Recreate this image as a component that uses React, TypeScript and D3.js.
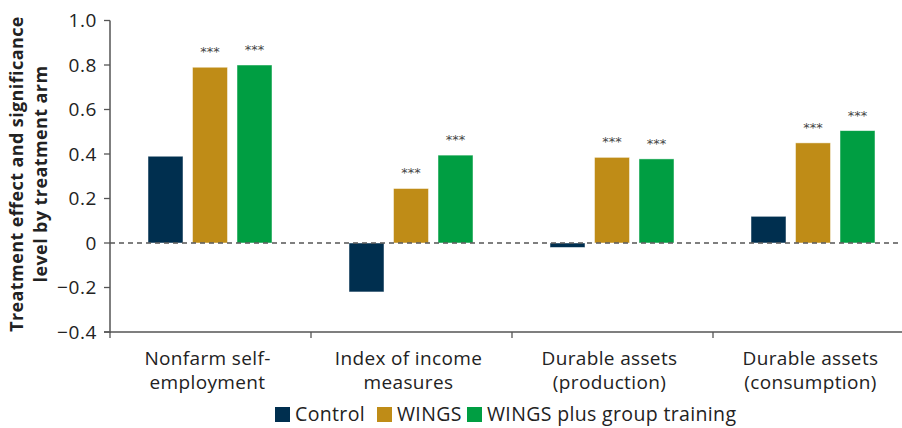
import React from "react";
import * as d3 from "d3";

const categories = [
  ["Nonfarm self-", "employment"],
  ["Index of income", "measures"],
  ["Durable assets", "(production)"],
  ["Durable assets", "(consumption)"],
];
const seriesNames = ["Control", "WINGS", "WINGS plus group training"];
const controlValues = [0.39, -0.22, -0.02, 0.12];
const wingsValues = [0.79, 0.245, 0.385, 0.45];
const wingsPlusValues = [0.8, 0.395, 0.378, 0.505];
const significance = [
  ["", "***", "***"],
  ["", "***", "***"],
  ["", "***", "***"],
  ["", "***", "***"],
];
const yTicks = [-0.4, -0.2, 0, 0.2, 0.4, 0.6, 0.8, 1.0];
const yTickLabels = ["\u22120.4", "\u22120.2", "0", "0.2", "0.4", "0.6", "0.8", "1.0"];
const colors = ["#002f4f", "#bf8c17", "#009e42"];

const W = 902;
const H = 428;
const font = "'Open Sans', 'Noto Sans', sans-serif";

export default function App() {
  const series = [controlValues, wingsValues, wingsPlusValues];
  const y = d3.scaleLinear().domain([-0.4, 1.0]).range([332, 20.5]);
  const x = d3
    .scaleBand<number>()
    .domain(d3.range(categories.length))
    .range([110, 914])
    .paddingInner(0)
    .paddingOuter(0);
  const groupW = 124;
  const inner = d3
    .scaleBand<number>()
    .domain([0, 1, 2])
    .range([0, groupW])
    .paddingInner(0.2135)
    .paddingOuter(0);
  const groupOffset = (x.bandwidth() - groupW) / 2 - 0.5;

  return (
    <svg
      width={W}
      height={H}
      style={{ position: "absolute", left: 0, top: 0, background: "#fff" }}
      fontFamily={font}
    >
      {/* y-axis title */}
      <text
        transform={`translate(23,174) rotate(-90)`}
        textAnchor="middle"
        fontSize={18}
        fontWeight={700}
        letterSpacing={0.4}
        fill="#222"
      >
        <tspan x={0} dy={0}>Treatment effect and significance</tspan>
        <tspan x={0} dy={23.5}>level by treatment arm</tspan>
      </text>

      {/* bars */}
      {categories.map((_, ci) =>
        series.map((vals, si) => {
          const v = vals[ci];
          const bx = (x(ci) as number) + groupOffset + (inner(si) as number);
          const y0 = y(0);
          const y1 = y(v);
          return (
            <g key={`${ci}-${si}`}>
              <rect
                x={bx}
                y={Math.min(y0, y1)}
                width={inner.bandwidth()}
                height={Math.abs(y1 - y0)}
                fill={colors[si]}
                stroke="#ffffff"
                strokeOpacity={0.6}
                strokeWidth={0.8}
              />
              {significance[ci][si] && (
                <text
                  x={bx + inner.bandwidth() / 2}
                  y={y1 - 11}
                  textAnchor="middle"
                  fontSize={13}
                  fill="#444"
                  fontFamily="'DejaVu Sans', sans-serif"
                >
                  {significance[ci][si]}
                </text>
              )}
            </g>
          );
        })
      )}

      {/* zero dashed line */}
      <line
        x1={110}
        x2={W}
        y1={y(0)}
        y2={y(0)}
        stroke="#555"
        strokeWidth={1.3}
        strokeDasharray="5,4"
      />

      {/* y axis */}
      <line x1={110} x2={110} y1={y(1.0)} y2={y(-0.4) + 1} stroke="#555" strokeWidth={1.5} />
      {yTicks.map((t, i) => (
        <g key={t}>
          <line x1={104} x2={110} y1={y(t)} y2={y(t)} stroke="#555" strokeWidth={1.3} />
          <text
            x={97}
            y={y(t)}
            dy="0.36em"
            textAnchor="end"
            fontSize={19}
            letterSpacing={0.6}
            fill="#222"
          >
            {yTickLabels[i]}
          </text>
        </g>
      ))}

      {/* x axis */}
      <line x1={104} x2={W} y1={y(-0.4)} y2={y(-0.4)} stroke="#555" strokeWidth={1.5} />
      {categories.map((_, ci) => (
        <line
          key={ci}
          x1={x(ci) as number}
          x2={x(ci) as number}
          y1={y(-0.4)}
          y2={y(-0.4) + 6}
          stroke="#555"
          strokeWidth={1.3}
        />
      ))}
      {categories.map((lines, ci) => (
        <text
          key={ci}
          y={365}
          textAnchor="middle"
          fontSize={19}
          letterSpacing={0.35}
          fill="#222"
        >
          {lines.map((l, li) => (
            <tspan key={li} x={(x(ci) as number) + x.bandwidth() / 2 - 3} dy={li === 0 ? 0 : 23.5}>
              {l}
            </tspan>
          ))}
        </text>
      ))}

      {/* legend */}
      {(() => {
        const legendX = [275, 377, 467];
        return seriesNames.map((n, i) => (
          <g key={n}>
            <rect x={legendX[i]} y={407} width={15} height={15} fill={colors[i]} />
            <text x={legendX[i] + 20} y={421} fontSize={19.5} letterSpacing={0.35} fill="#222">
              {n}
            </text>
          </g>
        ));
      })()}
    </svg>
  );
}
